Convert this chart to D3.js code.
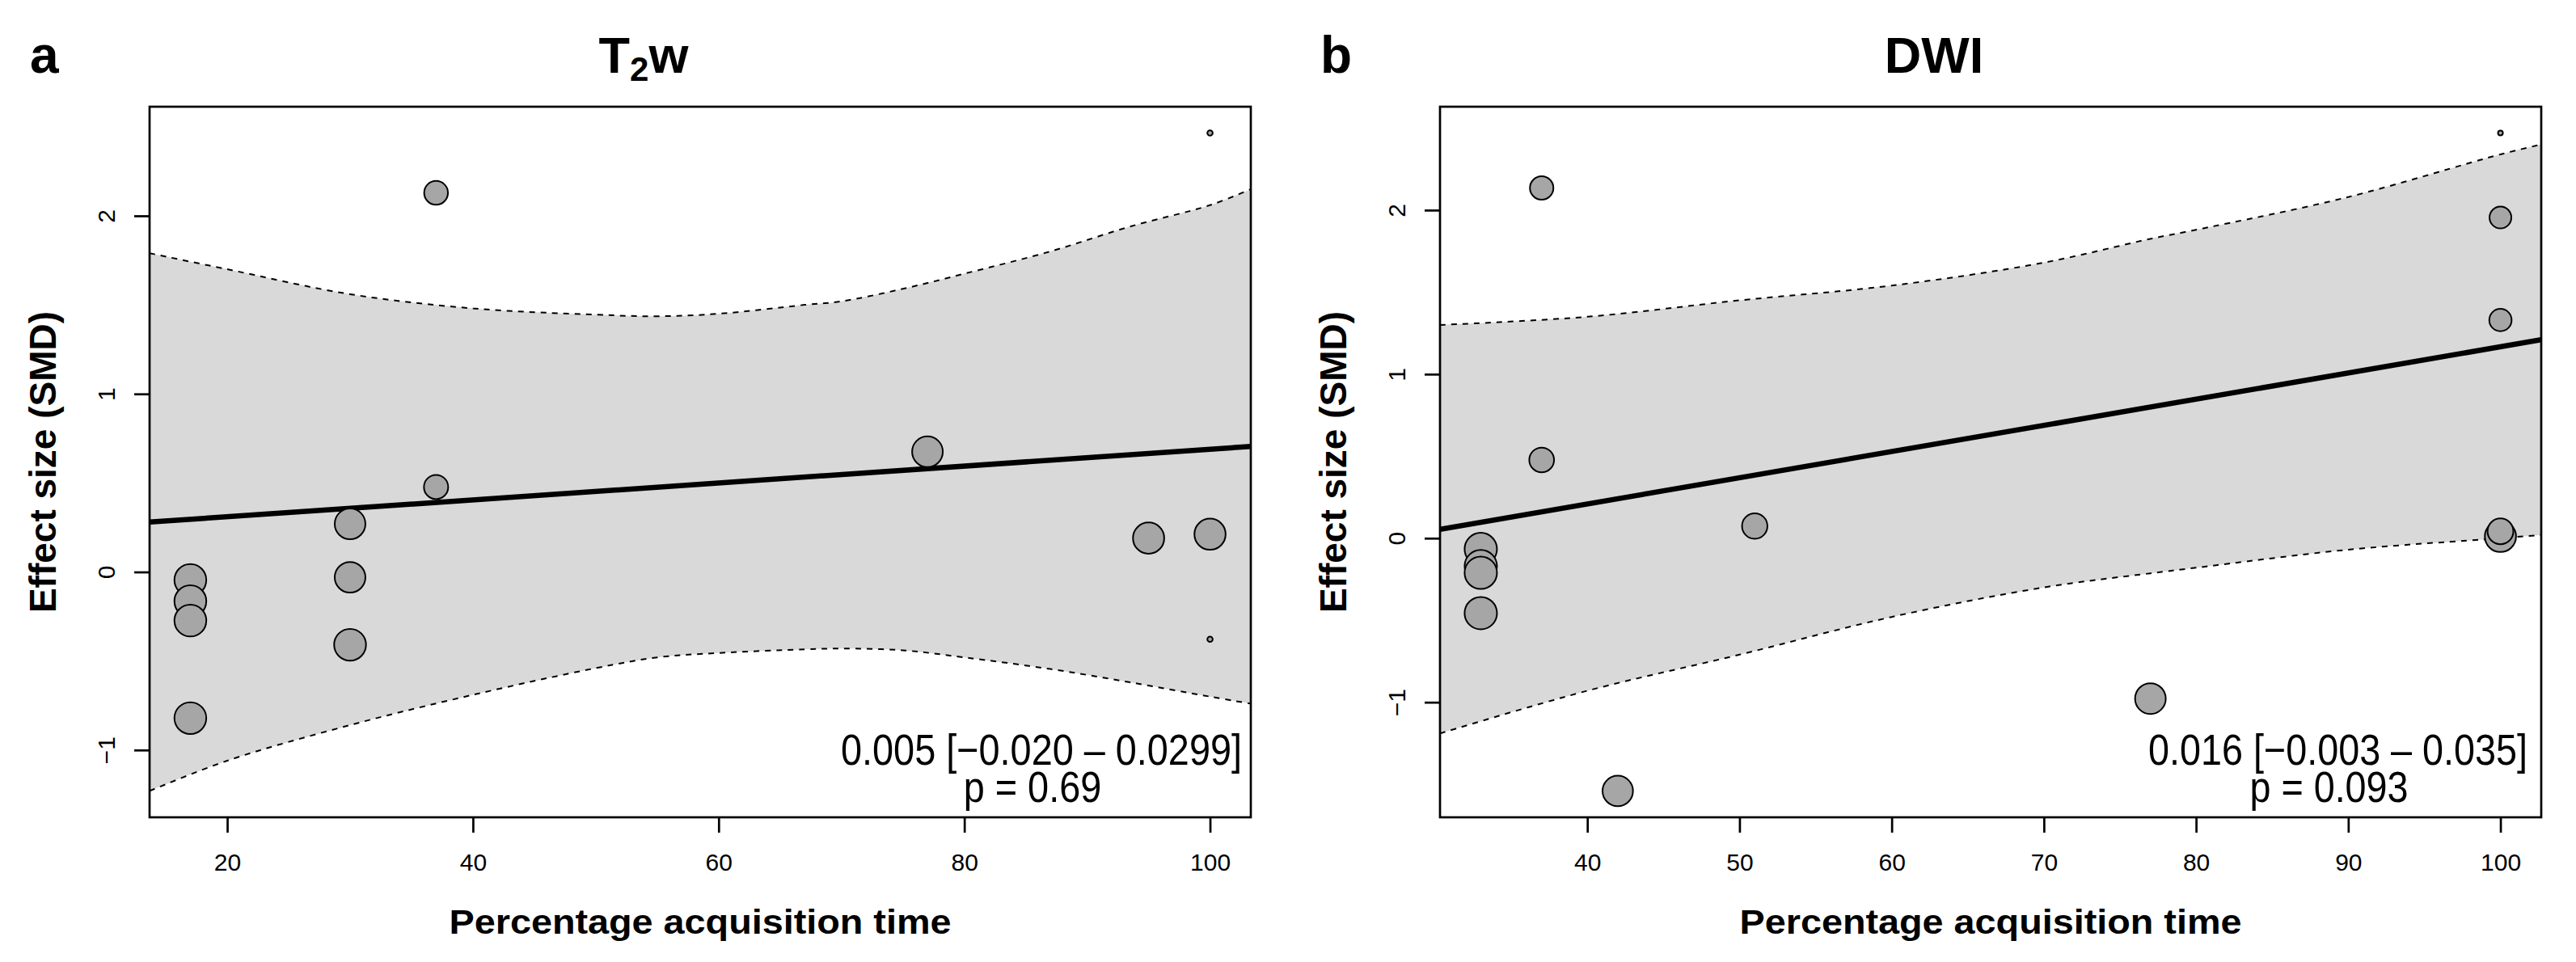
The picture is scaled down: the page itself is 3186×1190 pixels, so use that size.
<!DOCTYPE html>
<html>
<head>
<meta charset="utf-8">
<script src="https://cdn.jsdelivr.net/npm/d3@7"></script>
<style>
body { margin: 0; background: #fff; }
text { font-family: "Liberation Sans", Arial, Helvetica, sans-serif; fill: #000; }
</style>
</head>
<body>
<svg width="3186" height="1190"></svg>
<script>
"use strict";

// labels
var panelLetters = ["a", "b"];
var titleMain = ["T", "DWI"];
var titleSub = ["2", ""];
var titleTail = ["w", ""];
var xLabel = "Percentage acquisition time";
var yLabel = "Effect size (SMD)";

// panel a: T2w studies (time %, SMD, weight)
var t2wTime = [17, 17, 17, 17, 30, 30, 30, 37, 37, 77, 95, 100, 100, 100];
var t2wSmd = [-0.045, -0.164, -0.273, -0.821, 0.27, -0.03, -0.409, 2.129, 0.477, 0.675, 0.19, 0.212, 2.465, -0.378];
var t2wWeight = [19.2, 19.2, 19.2, 19.2, 17.8, 17.8, 19.2, 10.7, 11.1, 17.8, 18.4, 18.4, 0.54, 0.54];
var t2wFit = [[13.68, 0.28], [103.32, 0.705]];
var t2wCiTime = [13.68, 20, 30, 40, 50, 55, 60, 67, 70, 75, 80, 87, 93.5, 100, 103.32];
var t2wUpper = [1.79, 1.70, 1.56, 1.48, 1.445, 1.436, 1.45, 1.50, 1.52, 1.59, 1.675, 1.80, 1.94, 2.06, 2.15];
var t2wLower = [-1.23, -1.06, -0.86, -0.69, -0.54, -0.48, -0.455, -0.435, -0.43, -0.44, -0.48, -0.545, -0.62, -0.70, -0.74];
var t2wXTicks = [20, 40, 60, 80, 100];
var t2wYTicks = [-1, 0, 1, 2];
var t2wStats = ["0.005 [\u22120.020 \u2013 0.0299]", "p = 0.69"];

// panel b: DWI studies
var dwiTime = [33, 33, 33, 33, 37, 37, 42, 51, 77, 100, 100, 100, 100, 100];
var dwiSmd = [-0.066, -0.17, -0.211, -0.457, 2.135, 0.477, -1.541, 0.074, -0.978, 2.47, 1.955, 1.33, 0.011, 0.042];
var dwiWeight = [19.8, 19.8, 19.8, 19.8, 10.4, 11.6, 17.5, 12.2, 17.8, 0.45, 9.0, 9.4, 18.4, 12.6];
var dwiFit = [[30.32, 0.054], [102.68, 1.21]];
var dwiCiTime = [30.32, 40, 50, 60, 70, 77, 80, 90, 100, 102.68];
var dwiUpper = [1.30, 1.35, 1.45, 1.54, 1.68, 1.825, 1.88, 2.08, 2.34, 2.40];
var dwiLower = [-1.19, -0.93, -0.71, -0.48, -0.30, -0.214, -0.18, -0.07, 0.00, 0.02];
var dwiXTicks = [40, 50, 60, 70, 80, 90, 100];
var dwiYTicks = [-1, 0, 1, 2];
var dwiStats = ["0.016 [\u22120.003 \u2013 0.035]", "p = 0.093"];

// layout (pixels)
var panelOffset = [0, 1596];
var box = {left: 185, right: 1547, top: 132, bottom: 1011};
var statRight = [1536, 1530];
var statWidth = [496, 469];

document.addEventListener("DOMContentLoaded", init);

function init() {
    var svg = d3.select("svg");
    svg.append("rect").attr("width", 3186).attr("height", 1190).style("fill", "#fff");

    var panels = [
        {time: t2wTime, smd: t2wSmd, weight: t2wWeight, fit: t2wFit, ciTime: t2wCiTime,
         upper: t2wUpper, lower: t2wLower, xTicks: t2wXTicks, yTicks: t2wYTicks, stats: t2wStats},
        {time: dwiTime, smd: dwiSmd, weight: dwiWeight, fit: dwiFit, ciTime: dwiCiTime,
         upper: dwiUpper, lower: dwiLower, xTicks: dwiXTicks, yTicks: dwiYTicks, stats: dwiStats}
    ];
    for (let i = 0; i < panels.length; i++) {
        drawPanel(svg, i, panels[i]);
    }
}

// R style axis range: data range plus 4% each side
function padRange(ext) {
    var d = (ext[1] - ext[0]) * 0.04;
    return [ext[0] - d, ext[1] + d];
}

function drawPanel(svg, i, d) {
    var g = svg.append("g").attr("transform", "translate(" + panelOffset[i] + ",0)");

    var x = d3.scaleLinear().domain(padRange(d3.extent(d.time))).range([box.left, box.right]);
    var y = d3.scaleLinear()
              .domain(padRange(d3.extent(d.smd.concat(d.upper, d.lower))))
              .range([box.bottom, box.top]);
    var r = d3.scaleSqrt().domain([0, 25]).range([0, 22.5]);

    g.append("clipPath").attr("id", "clip" + i)
     .append("rect")
       .attr("x", box.left).attr("y", box.top)
       .attr("width", box.right - box.left).attr("height", box.bottom - box.top);
    var plot = g.append("g").attr("clip-path", "url(#clip" + i + ")");

    // confidence band
    var ci = d.ciTime.map(function(t, k) { return {t: t, lo: d.lower[k], hi: d.upper[k]}; });
    plot.append("path")
        .datum(ci)
        .attr("d", d3.area().curve(d3.curveCatmullRom)
                    .x(function(p) { return x(p.t); })
                    .y0(function(p) { return y(p.lo); })
                    .y1(function(p) { return y(p.hi); }))
        .style("fill", "#d9d9d9");
    ["lo", "hi"].forEach(function(key) {
        plot.append("path")
            .datum(ci)
            .attr("d", d3.line().curve(d3.curveCatmullRom)
                        .x(function(p) { return x(p.t); })
                        .y(function(p) { return y(p[key]); }))
            .style("fill", "none")
            .style("stroke", "#000")
            .style("stroke-width", 2)
            .style("stroke-dasharray", "7,7");
    });

    // meta-regression line
    plot.append("path")
        .datum(d.fit)
        .attr("d", d3.line().x(function(p) { return x(p[0]); }).y(function(p) { return y(p[1]); }))
        .style("fill", "none")
        .style("stroke", "#000")
        .style("stroke-width", 6.5);

    // studies, bigger ones drawn first
    var pts = d.time.map(function(t, k) { return {t: t, v: d.smd[k], w: d.weight[k]}; });
    pts.sort(function(p, q) { return q.w - p.w; });
    g.append("g").selectAll("circle").data(pts).enter()
      .append("circle")
        .attr("cx", function(p) { return x(p.t); })
        .attr("cy", function(p) { return y(p.v); })
        .attr("r", function(p) { return r(p.w); })
        .style("fill", "#a6a6a6")
        .style("stroke", "#000")
        .style("stroke-width", 2);

    g.append("rect")
        .attr("x", box.left).attr("y", box.top)
        .attr("width", box.right - box.left).attr("height", box.bottom - box.top)
        .style("fill", "none")
        .style("stroke", "#000")
        .style("stroke-width", 2.7);

    // axes
    var xAxis = g.append("g")
        .attr("transform", "translate(0," + box.bottom + ")")
        .call(d3.axisBottom(x).tickValues(d.xTicks).tickSize(19).tickPadding(26));
    var yAxis = g.append("g")
        .attr("transform", "translate(" + box.left + ",0)")
        .call(d3.axisLeft(y).tickValues(d.yTicks).tickSize(19).tickFormat(d3.format("d")));
    [xAxis, yAxis].forEach(function(a) {
        a.select(".domain").remove();
        a.selectAll("line").style("stroke-width", 2.7);
        a.selectAll("text")
         .style("font-family", "\"Liberation Sans\", Arial, sans-serif")
         .style("font-size", "30px");
    });
    yAxis.selectAll("text")
         .attr("x", null).attr("dy", null)
         .attr("text-anchor", "middle")
         .attr("transform", "translate(-43,0) rotate(-90)");

    // labels
    g.append("text")
        .attr("x", 37).attr("y", 90)
        .style("font-weight", "bold").style("font-size", "64px")
        .text(panelLetters[i]);

    var title = g.append("text")
        .attr("x", 796).attr("y", 90)
        .attr("text-anchor", "middle")
        .style("font-weight", "bold").style("font-size", "63px");
    title.append("tspan").text(titleMain[i]);
    if (titleSub[i]) {
        title.append("tspan").attr("dy", 10).style("font-size", "42px").text(titleSub[i]);
        title.append("tspan").attr("dy", -10).text(titleTail[i]);
    }

    g.append("text")
        .attr("transform", "translate(69," + (box.top + box.bottom) / 2 + ") rotate(-90)")
        .attr("text-anchor", "middle")
        .style("font-weight", "bold").style("font-size", "46px")
        .text(yLabel);

    g.append("text")
        .attr("x", (box.left + box.right) / 2).attr("y", 1155)
        .attr("text-anchor", "middle")
        .attr("textLength", 621).attr("lengthAdjust", "spacingAndGlyphs")
        .style("font-weight", "bold").style("font-size", "42px")
        .text(xLabel);

    // estimate [CI] and p value, squeezed like the original
    var line1 = g.append("text")
        .attr("x", statRight[i]).attr("y", 946)
        .attr("text-anchor", "end")
        .style("font-size", "53px")
        .text(d.stats[0]);
    var squeeze = statWidth[i] / line1.node().getComputedTextLength();
    line1.attr("textLength", statWidth[i]).attr("lengthAdjust", "spacingAndGlyphs");
    var line2 = g.append("text")
        .attr("x", statRight[i] - statWidth[i] / 2 - 11).attr("y", 992)
        .attr("text-anchor", "middle")
        .style("font-size", "53px")
        .text(d.stats[1]);
    line2.attr("textLength", line2.node().getComputedTextLength() * squeeze)
         .attr("lengthAdjust", "spacingAndGlyphs");
}
</script>
</body>
</html>
